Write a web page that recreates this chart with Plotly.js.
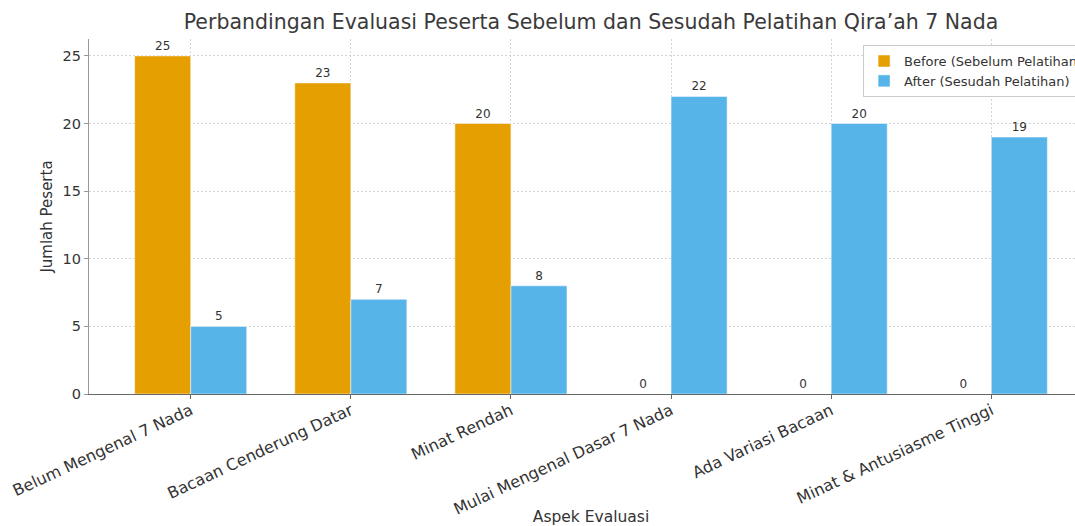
<!DOCTYPE html>
<html>
<head>
<meta charset="utf-8">
<script src="https://cdn.plot.ly/plotly-3.0.1.min.js"></script>
<style>html,body{margin:0;padding:0;background:#fff;overflow:hidden;width:1075px;height:526px;}#chart{width:1130px;height:526px;}</style>
</head>
<body>
<div id="chart"></div>
<script>
const categories = ["Belum Mengenal 7 Nada","Bacaan Cenderung Datar","Minat Rendah","Mulai Mengenal Dasar 7 Nada","Ada Variasi Bacaan","Minat & Antusiasme Tinggi"];
const beforeValues = [25, 23, 20, 0, 0, 0];
const afterValues = [5, 7, 8, 22, 20, 19];
const yTicks = [0, 5, 10, 15, 20, 25];

const xIdx = categories.map((c, i) => i);
const font = "DejaVu Sans, sans-serif";

const traces = [
  {type: 'bar', name: 'Before (Sebelum Pelatihan)', x: xIdx, y: beforeValues,
   marker: {color: '#E69F00', line: {color: '#ffffff', width: 0.5}},
   text: beforeValues.map(String), textposition: 'outside', cliponaxis: false,
   textfont: {family: font, size: 12, color: '#333333'}, hoverinfo: 'y'},
  {type: 'bar', name: 'After (Sesudah Pelatihan)', x: xIdx, y: afterValues,
   marker: {color: '#56B4E9', line: {color: '#ffffff', width: 0.5}},
   text: afterValues.map(String), textposition: 'outside', cliponaxis: false,
   textfont: {family: font, size: 12, color: '#333333'}, hoverinfo: 'y'}
];

const layout = {
  width: 1130, height: 526,
  margin: {l: 89, r: 37, t: 39, b: 132},
  paper_bgcolor: '#ffffff', plot_bgcolor: '#ffffff',
  font: {family: font, color: '#333333'},
  barmode: 'group', bargap: 0.3, bargroupgap: 0,
  title: {text: "Perbandingan Evaluasi Peserta Sebelum dan Sesudah Pelatihan Qira’ah 7 Nada",
          font: {family: font, size: 20.5, color: '#3a3a3a'}, xref: 'paper', x: 0.5, xanchor: 'center', y: 0.958, yanchor: 'middle'},
  xaxis: {
    range: [-0.635, 5.635], tickmode: 'array', tickvals: xIdx, ticktext: categories,
    tickangle: -25, tickfont: {family: font, size: 16, color: '#333333'}, ticklabelstandoff: -4,
    showgrid: true, gridcolor: '#d4d4d4', griddash: '2px,2px', gridwidth: 1,
    showline: true, linecolor: '#666666', linewidth: 1.2,
    ticks: 'outside', ticklen: 4, tickcolor: '#666666',
    zeroline: false,
    title: {text: 'Aspek Evaluasi', font: {family: font, size: 15.5, color: '#333333'}, standoff: 8}
  },
  yaxis: {
    range: [0, 26.25], tickmode: 'array', tickvals: yTicks,
    tickfont: {family: font, size: 14.5, color: '#333333'},
    showgrid: true, gridcolor: '#d4d4d4', griddash: '2px,2px', gridwidth: 1,
    showline: true, linecolor: '#999999', linewidth: 1.2,
    ticks: 'outside', ticklen: 4, tickcolor: '#999999',
    zeroline: false,
    title: {text: 'Jumlah Peserta', font: {family: font, size: 15, color: '#333333'}, standoff: 6}
  },
  legend: {
    x: 0.771, y: 0.983, xanchor: 'left', yanchor: 'top',
    bgcolor: 'rgba(255,255,255,0.9)', bordercolor: '#cccccc', borderwidth: 1,
    font: {family: font, size: 13, color: '#333333'}, tracegroupgap: 2
  },
  showlegend: true
};

Plotly.newPlot('chart', traces, layout, {displayModeBar: false, staticPlot: true});
</script>
</body>
</html>
